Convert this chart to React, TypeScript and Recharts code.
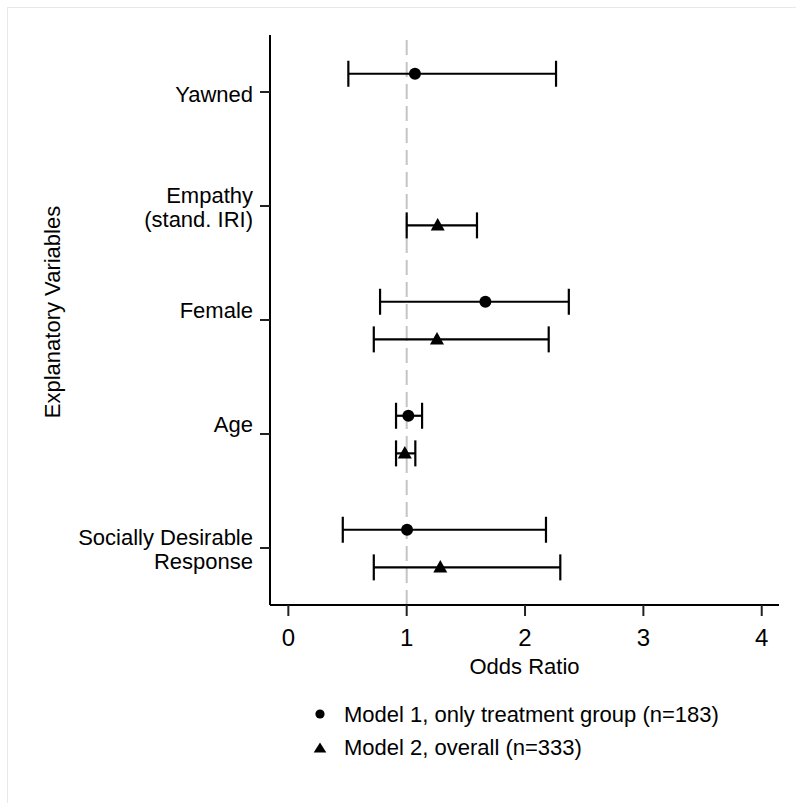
import { ScatterChart, Scatter, XAxis, YAxis, ErrorBar, ReferenceLine } from "recharts";

// rows, top to bottom
const categoryLines = [
  ["Yawned"],
  ["Empathy", "(stand. IRI)"],
  ["Female"],
  ["Age"],
  ["Socially Desirable", "Response"],
];

// Model 1, only treatment group (n=183)
const model1Or = [1.07, null, 1.665, 1.014, 1.003];
const model1Lo = [0.507, null, 0.775, 0.91, 0.46];
const model1Hi = [2.262, null, 2.37, 1.13, 2.177];

// Model 2, overall (n=333)
const model2Or = [null, 1.262, 1.256, 0.984, 1.284];
const model2Lo = [null, 1.0, 0.722, 0.91, 0.722];
const model2Hi = [null, 1.594, 2.2, 1.073, 2.298];

const xTicks = [0, 1, 2, 3, 4];
const yTicks = [1, 2, 3, 4, 5];

const FONT = '"Liberation Sans", Arial, sans-serif';
const INK = "#000";

// vertical nudge of the two models inside a row
const M1_SHIFT = -0.16;
const M2_SHIFT = 0.17;
// label line centres relative to the tick (px)
const labelDy = [[1.5], [-11.5, 12.5], [-10.5], [-10.5], [-11, 12.5]];

const buildRows = (or: (number | null)[], lo: (number | null)[], hi: (number | null)[], shift: number) =>
  or.flatMap((v, i) =>
    v == null ? [] : [{ x: v, y: i + 1 + shift, err: [v - (lo[i] as number), (hi[i] as number) - v] }]
  );

const model1Rows = buildRows(model1Or, model1Lo, model1Hi, M1_SHIFT);
const model2Rows = buildRows(model2Or, model2Lo, model2Hi, M2_SHIFT);

const Dot = (p: any) => <circle cx={p.cx} cy={p.cy} r={6} fill={INK} />;
const Tri = (p: any) => (
  <polygon points={`${p.cx},${p.cy - 7.5} ${p.cx + 7},${p.cy + 5} ${p.cx - 7},${p.cy + 5}`} fill={INK} />
);

const renderYTick = (props: any) => {
  const { x, y, payload } = props;
  const idx = payload.value - 1;
  const lines = categoryLines[idx] || [];
  return (
    <g>
      {lines.map((t, k) => (
        <text key={k} x={x - 5} y={y + labelDy[idx][k] + 8} textAnchor="end" fontSize={22} fontFamily={FONT} fill={INK}>
          {t}
        </text>
      ))}
    </g>
  );
};

const renderXTick = (props: any) => {
  const { x, y, payload } = props;
  return (
    <text x={x} y={y + 28} textAnchor="middle" fontSize={24} fontFamily={FONT} fill={INK}>
      {payload.value}
    </text>
  );
};

export default function App() {
  return (
    <div style={{ position: "absolute", left: 0, top: 0, width: 796, height: 803, overflow: "hidden", background: "#fff" }}>
      <div style={{ position: "absolute", left: 7, top: 7, width: 820, height: 820, border: "1px solid #e3eaea" }} />
      <div style={{ position: "absolute", left: 0, top: 0 }}>
        <ScatterChart width={796} height={803} margin={{ top: 35, right: 17, bottom: 118, left: 0 }}>
          <XAxis
            type="number"
            dataKey="x"
            domain={[-0.155, 4.146]}
            ticks={xTicks}
            allowDataOverflow
            height={80}
            tickSize={11}
            axisLine={{ stroke: INK, strokeWidth: 2 }}
            tickLine={{ stroke: "#222", strokeWidth: 2 }}
            tick={renderXTick}
            label={{
              content: ({ viewBox }: any) => (
                <text x={viewBox.x + viewBox.width / 2} y={viewBox.y + 69} textAnchor="middle" fontSize={22} fontFamily={FONT} fill={INK}>
                  Odds Ratio
                </text>
              ),
            }}
          />
          <YAxis
            type="number"
            dataKey="y"
            domain={[0.5, 5.5]}
            reversed
            ticks={yTicks}
            interval={0}
            allowDataOverflow
            width={270}
            tickSize={10}
            axisLine={{ stroke: INK, strokeWidth: 2 }}
            tickLine={{ stroke: "#222", strokeWidth: 2 }}
            tick={renderYTick}
            label={{
              content: ({ viewBox }: any) => {
                const cx = viewBox.x + 52;
                const cy = viewBox.y + viewBox.height / 2 - 8;
                return (
                  <text transform={`translate(${cx},${cy}) rotate(-90)`} textAnchor="middle" dy="0.36em" fontSize={22} fontFamily={FONT} fill={INK}>
                    Explanatory Variables
                  </text>
                );
              },
            }}
          />
          <ReferenceLine x={1} stroke="#c4c4c4" strokeWidth={2} strokeDasharray="15 7" />
          <Scatter data={model1Rows} shape={Dot} isAnimationActive={false}>
            <ErrorBar dataKey="err" direction="x" width={13} strokeWidth={2.2} stroke={INK} isAnimationActive={false} />
          </Scatter>
          <Scatter data={model2Rows} shape={Tri} isAnimationActive={false}>
            <ErrorBar dataKey="err" direction="x" width={13} strokeWidth={2.2} stroke={INK} isAnimationActive={false} />
          </Scatter>
        </ScatterChart>
      </div>
      <svg width={796} height={803} style={{ position: "absolute", left: 0, top: 0, pointerEvents: "none" }}>
        <circle cx={320} cy={714} r={4.6} fill={INK} />
        <text x={344} y={721.5} fontSize={22} fontFamily={FONT} fill={INK}>
          Model 1, only treatment group (n=183)
        </text>
        <polygon points="320,742.5 326.3,752.5 313.7,752.5" fill={INK} />
        <text x={344} y={755} fontSize={22} fontFamily={FONT} fill={INK}>
          Model 2, overall (n=333)
        </text>
      </svg>
    </div>
  );
}
